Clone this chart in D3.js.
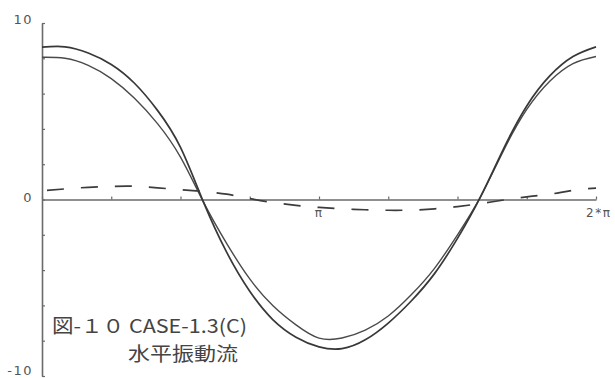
<!DOCTYPE html>
<html>
<head>
<meta charset="utf-8">
<script src="https://cdn.jsdelivr.net/npm/d3@7/dist/d3.min.js"></script>
<style>
  html, body { margin: 0; padding: 0; background: #fff; }
  svg { display: block; }
</style>
</head>
<body>
<svg id="chart" width="615" height="378"></svg>
<script>
// phase, in units of pi (0 .. 2)
const phase = [0, 0.083, 0.167, 0.25, 0.333, 0.417, 0.5, 0.583, 0.667, 0.75, 0.833, 0.917,
               1.0, 1.083, 1.167, 1.25, 1.333, 1.417, 1.5, 1.583, 1.667, 1.75, 1.833, 1.917, 2.0];

// outer solid curve
const seriesA = [8.63, 8.65, 8.3, 7.65, 6.6, 5.05, 2.95, -0.15, -3.0, -5.2, -6.8, -7.8,
                 -8.35, -8.45, -7.95, -7.0, -5.75, -4.2, -2.2, 0.15, 2.9, 5.3, 7.0, 8.1, 8.65];
// inner solid curve
const seriesB = [8.06, 8.0, 7.6, 6.85, 5.75, 4.3, 2.4, -0.15, -2.5, -4.5, -6.0, -7.1,
                 -7.85, -7.85, -7.4, -6.6, -5.4, -3.9, -2.0, 0.15, 2.8, 5.1, 6.7, 7.7, 8.1];
// dashed curve
const seriesC = [0.5, 0.6, 0.69, 0.74, 0.75, 0.66, 0.56, 0.45, 0.3, 0.05, -0.17, -0.33,
                 -0.45, -0.53, -0.58, -0.61, -0.6, -0.53, -0.4, -0.23, -0.03, 0.15, 0.3, 0.52, 0.65];

const xTicks = [0, 0.25, 0.5, 0.75, 1, 1.25, 1.5, 1.75, 2];
const xTickLabels = [{v: 1, t: "π"}, {v: 2, t: "2*π"}];
const yTicks = [-10, -8, -6, -4, -2, 0, 2, 4, 6, 8, 10];
const yTickLabels = [10, 0, -10];
const titleLines = ["図-１０ CASE-1.3(C)", "水平振動流"];

const svg = d3.select("#chart");
const x = d3.scaleLinear().domain([0, 2]).range([42, 596]);
const y = d3.scaleLinear().domain([-10, 10]).range([376, 23]);

const axisColor = "#6a6a6a";

// horizontal axis through zero, ticks pointing up
const gx = svg.append("g")
  .attr("transform", `translate(0,${y(0)})`)
  .call(d3.axisTop(x).tickValues(xTicks).tickSize(3).tickSizeOuter(0).tickFormat(""));
gx.select(".domain").attr("stroke", axisColor).attr("stroke-width", 1.6);
gx.selectAll(".tick line").attr("stroke", axisColor).attr("stroke-width", 1.2);

// vertical axis, ticks pointing right
const gy = svg.append("g")
  .attr("transform", `translate(${x(0)},0)`)
  .call(d3.axisRight(y).tickValues(yTicks).tickSize(3).tickSizeOuter(0).tickFormat(""));
gy.select(".domain").attr("stroke", axisColor).attr("stroke-width", 1.6);
gy.selectAll(".tick line").attr("stroke", axisColor).attr("stroke-width", 1.2);

// y tick labels
svg.selectAll("text.ylab").data(yTickLabels).enter().append("text")
  .attr("class", "ylab")
  .attr("x", x(0) - 9)
  .attr("y", d => y(d) + (d === 10 ? 1 : d === 0 ? 2 : -1))
  .attr("text-anchor", "end")
  .attr("font-family", "'DejaVu Sans', sans-serif")
  .attr("font-size", 13)
  .attr("letter-spacing", 1.5)
  .attr("fill", "#555")
  .text(d => d);

// x tick labels
svg.selectAll("text.xlab").data(xTickLabels).enter().append("text")
  .attr("class", "xlab")
  .attr("x", d => x(d.v) + (d.v === 2 ? -10 : 0))
  .attr("y", y(0) + 17)
  .attr("text-anchor", d => d.v === 2 ? "start" : "middle")
  .attr("font-family", "'DejaVu Sans', sans-serif")
  .attr("font-size", 12)
  .attr("letter-spacing", 1.5)
  .attr("fill", "#555")
  .text(d => d.t);

const line = d3.line()
  .x((d, i) => x(phase[i]))
  .y(d => y(d))
  .curve(d3.curveNatural);

svg.append("path").datum(seriesC)
  .attr("d", line).attr("fill", "none")
  .attr("stroke", "#3c3c3c").attr("stroke-width", 1.7)
  .attr("stroke-dasharray", "17,17").attr("stroke-dashoffset", -5);

svg.append("path").datum(seriesB)
  .attr("d", line).attr("fill", "none")
  .attr("stroke", "#4a4a4a").attr("stroke-width", 1.4);

svg.append("path").datum(seriesA)
  .attr("d", line).attr("fill", "none")
  .attr("stroke", "#383838").attr("stroke-width", 1.7);

// caption
svg.append("text")
  .attr("x", 52).attr("y", 333)
  .attr("textLength", 195).attr("lengthAdjust", "spacingAndGlyphs")
  .attr("font-family", "'Noto Sans CJK JP', 'DejaVu Sans Mono', sans-serif")
  .attr("font-size", 19)
  .attr("fill", "#444")
  .text(titleLines[0]);

svg.append("text")
  .attr("x", 128).attr("y", 361)
  .attr("textLength", 110).attr("lengthAdjust", "spacingAndGlyphs")
  .attr("font-family", "'Noto Sans CJK JP', sans-serif")
  .attr("font-size", 19)
  .attr("fill", "#444")
  .text(titleLines[1]);
</script>
</body>
</html>
